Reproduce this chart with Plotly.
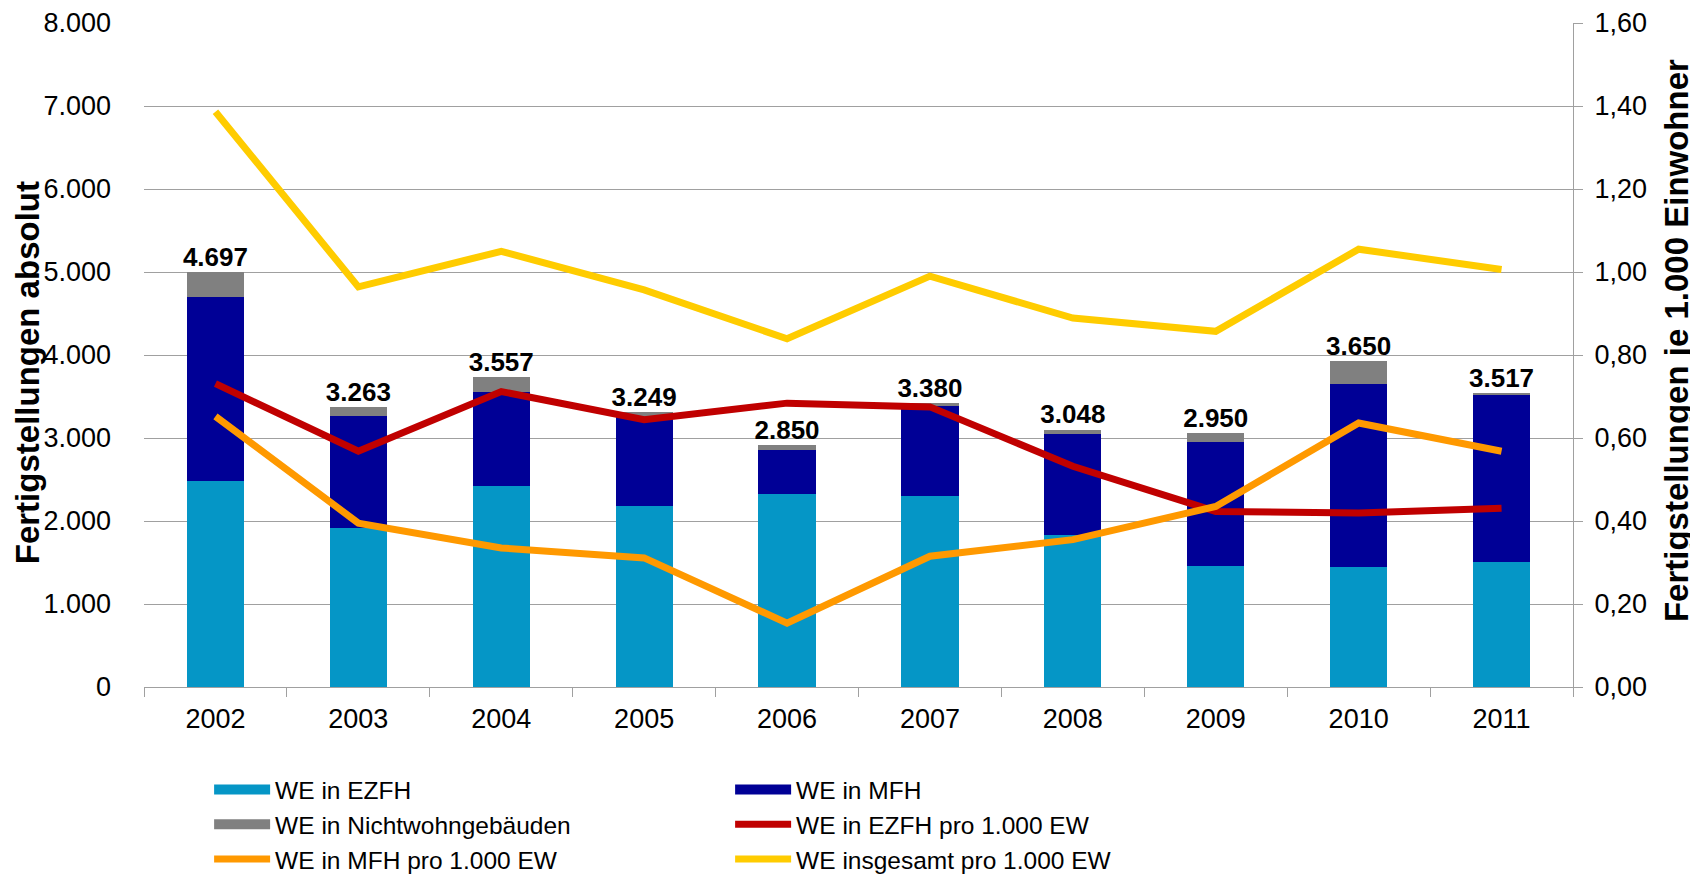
import plotly.graph_objects as go

jahre = ['2002', '2003', '2004', '2005', '2006', '2007', '2008', '2009', '2010', '2011']

# Fertigstellungen absolut (Wohneinheiten)
we_ezfh = [2480, 1916, 2426, 2185, 2330, 2297, 1830, 1455, 1446, 1506]
we_mfh = [2217, 1347, 1131, 1064, 520, 1083, 1218, 1495, 2204, 2011]
we_nwg = [300, 107, 175, 64, 62, 40, 52, 110, 274, 25]
we_wohngeb = [4697, 3263, 3557, 3249, 2850, 3380, 3048, 2950, 3650, 3517]

# Fertigstellungen je 1.000 Einwohner
ezfh_pro_ew = [0.731, 0.568, 0.712, 0.644, 0.684, 0.675, 0.532, 0.423, 0.419, 0.431]
mfh_pro_ew = [0.652, 0.395, 0.335, 0.311, 0.154, 0.315, 0.355, 0.435, 0.636, 0.568]
gesamt_pro_ew = [1.386, 0.964, 1.050, 0.957, 0.839, 0.990, 0.889, 0.857, 1.055, 1.006]

FONT = 'Arial, Liberation Sans, sans-serif'
GRID = '#A0A0A0'

balken = [
    ('WE in EZFH', we_ezfh, '#0596C6'),
    ('WE in MFH', we_mfh, '#000096'),
    ('WE in Nichtwohngebäuden', we_nwg, '#808080'),
]
linien = [
    ('WE in EZFH pro 1.000 EW', ezfh_pro_ew, '#C00000'),
    ('WE in MFH pro 1.000 EW', mfh_pro_ew, '#FF9900'),
    ('WE insgesamt pro 1.000 EW', gesamt_pro_ew, '#FFCC00'),
]

fig = go.Figure()

rank = 1
for name, werte, farbe in balken:
    fig.add_trace(go.Bar(
        x=jahre, y=werte, name=name, legendgroup=name, showlegend=False,
        marker=dict(color=farbe, line_width=0),
        hovertemplate='%{x}: %{y:,d}<extra>' + name + '</extra>'
    ))
    # Legendeneintrag als breites Rechteck
    fig.add_trace(go.Scatter(
        x=[None], y=[None], mode='lines', name=name, legendgroup=name,
        line=dict(color=farbe, width=12), legendrank=rank
    ))
    rank += 1

# Summenbeschriftung über den Säulen
stapel = [a + b + c for a, b, c in zip(we_ezfh, we_mfh, we_nwg)]
fig.add_trace(go.Scatter(
    x=jahre, y=stapel, mode='text', showlegend=False, hoverinfo='skip',
    text=[f'{v:,}'.replace(',', '.') for v in we_wohngeb],
    textposition='top center',
    textfont=dict(family=FONT, size=26, color='black', weight='bold')
))

for name, werte, farbe in linien:
    fig.add_trace(go.Scatter(
        x=jahre, y=werte, name=name, yaxis='y2', mode='lines',
        line=dict(color=farbe, width=7), legendrank=rank,
        hovertemplate='%{x}: %{y:.2f}<extra>' + name + '</extra>'
    ))
    rank += 1

# Seite hat 8px Body-Rand -> Figur etwas kleiner
fig.update_layout(
    width=1690, height=866,
    barmode='stack', bargap=0.6,
    separators=',.',
    plot_bgcolor='white', paper_bgcolor='white',
    font=dict(family=FONT, size=27, color='black'),
    margin=dict(l=136, r=125, t=15, b=187, autoexpand=False),
    xaxis=dict(
        type='category', showgrid=False, automargin=False,
        showline=True, linecolor=GRID, linewidth=1,
        ticks='outside', tickson='boundaries', ticklen=9, tickcolor=GRID,
        ticklabelstandoff=8, tickfont=dict(size=27)
    ),
    yaxis=dict(
        range=[0, 8000], dtick=1000, tickformat=',d', automargin=False,
        showgrid=True, gridcolor=GRID, gridwidth=1, zeroline=False,
        showline=False, ticks='', ticklabelstandoff=32
    ),
    yaxis2=dict(
        overlaying='y', side='right', automargin=False,
        range=[0, 1.6], dtick=0.2, tickformat='.2f',
        showgrid=False, zeroline=False,
        showline=True, linecolor=GRID, linewidth=1,
        ticks='outside', ticklen=9, tickcolor=GRID, ticklabelstandoff=6
    ),
    legend=dict(
        orientation='h', traceorder='normal',
        xref='container', yref='container',
        x=0.119, xanchor='left', y=0.1236, yanchor='top',
        entrywidth=450, entrywidthmode='pixels', itemwidth=56,
        font=dict(family=FONT, size=24.5), bgcolor='rgba(0,0,0,0)'
    )
)

# Achsentitel
fig.add_annotation(
    text='<b>Fertigstellungen absolut</b>', textangle=-90,
    xref='paper', yref='paper', x=-0.0819, y=0.474,
    xanchor='center', yanchor='middle', showarrow=False,
    font=dict(family=FONT, size=33, color='black')
)
fig.add_annotation(
    text='<b>Fertigstellungen je 1.000 Einwohner</b>', textangle=-90,
    xref='paper', yref='paper', x=1.0721, y=0.521,
    xanchor='center', yanchor='middle', showarrow=False,
    font=dict(family=FONT, size=33, color='black')
)

fig.write_html('out.html')
